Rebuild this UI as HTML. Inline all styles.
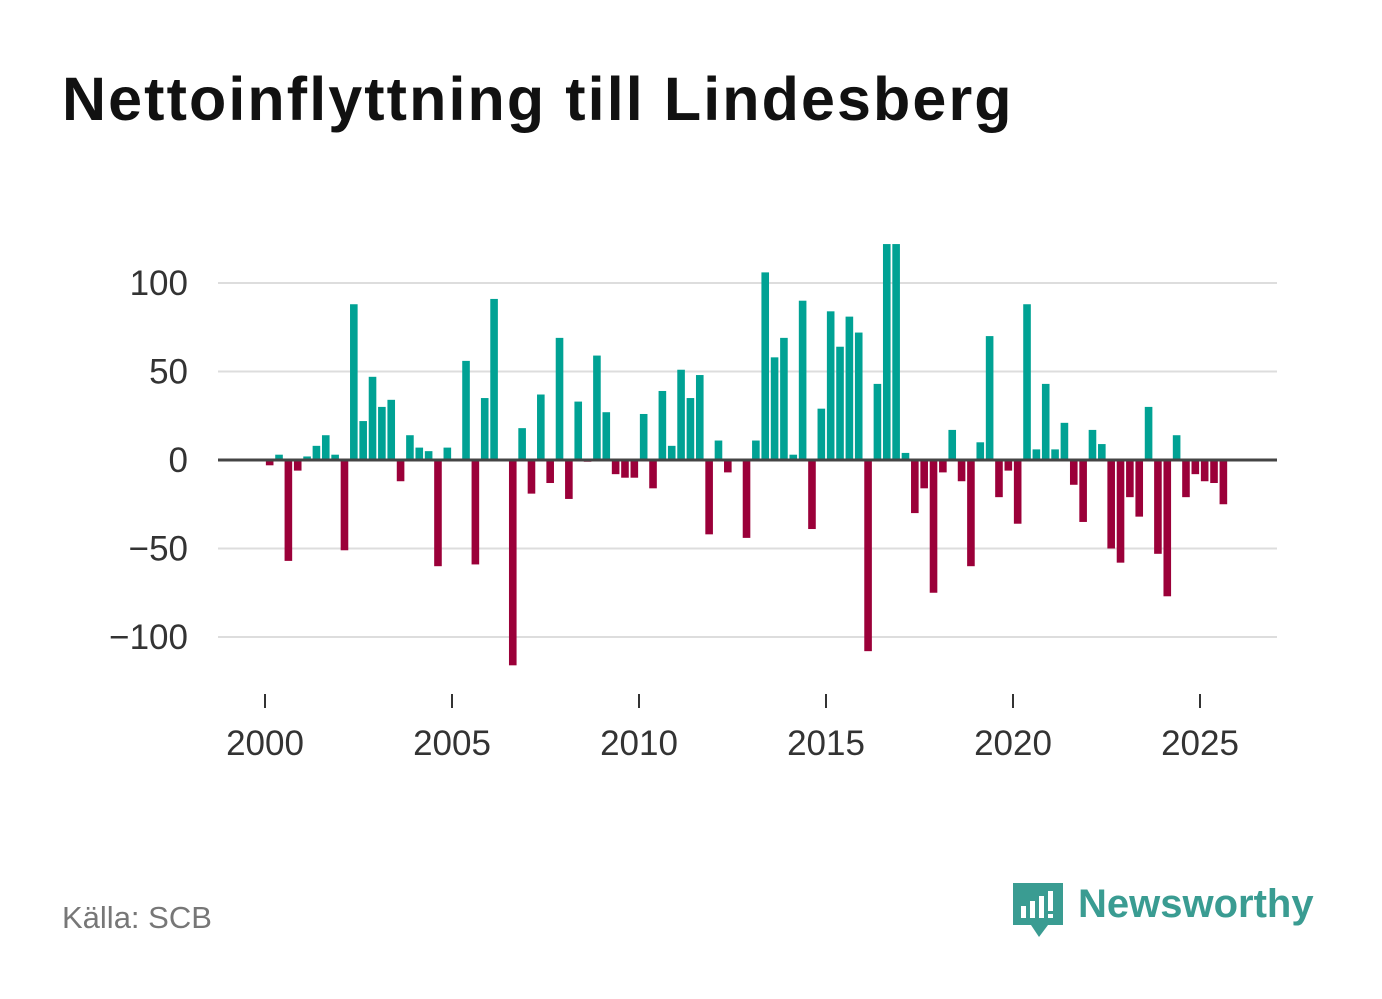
<!DOCTYPE html>
<html><head><meta charset="utf-8">
<style>
body{margin:0;background:#fff;font-family:"Liberation Sans",sans-serif;}
#wrap{position:relative;width:1382px;height:999px;overflow:hidden;}
h1{position:absolute;left:62px;top:64px;margin:0;font-size:61px;font-weight:bold;color:#111;letter-spacing:2.1px;}
#src{position:absolute;left:62px;top:900px;font-size:31px;color:#777;}
#logo{position:absolute;left:1010px;top:880px;}
</style></head><body>
<div id="wrap">
<h1>Nettoinflyttning till Lindesberg</h1>
<svg id="chart" width="1382" height="999" style="position:absolute;left:0;top:0"></svg>
<div id="src">Källa: SCB</div>
<div id="logo">
<svg width="320" height="62">
<path d="M3 3h50v42H38l-9 12-8-12H3z" fill="#3a9c92"/>
<rect x="11" y="26" width="5" height="12" fill="#fff"/><rect x="20" y="21" width="5" height="17" fill="#fff"/><rect x="29" y="16" width="5" height="22" fill="#fff"/><rect x="38" y="11" width="5" height="20" fill="#fff"/><rect x="38" y="34" width="5" height="4" fill="#fff"/>
<text x="68" y="37" font-family="Liberation Sans, sans-serif" font-size="40" font-weight="bold" fill="#3a9c92">Newsworthy</text>
</svg></div>
</div>
<script>
const values=[-3,3,-57,-6,2,8,14,3,-51,88,22,47,30,34,-12,14,7,5,-60,7,0,56,-59,35,91,0,-116,18,-19,37,-13,69,-22,33,-1,59,27,-8,-10,-10,26,-16,39,8,51,35,48,-42,11,-7,0,-44,11,106,58,69,3,90,-39,29,84,64,81,72,-108,43,122,122,4,-30,-16,-75,-7,17,-12,-60,10,70,-21,-6,-36,88,6,43,6,21,-14,-35,17,9,-50,-58,-21,-32,30,-53,-77,14,-21,-8,-12,-13,-25];
const startYear=2000;
const yTicks=[100,50,0,-50,-100];
const yTickLabels=["100","50","0","\u221250","\u2212100"];
const xTicks=[2000,2005,2010,2015,2020,2025];
const NS="http://www.w3.org/2000/svg";
const svg=document.getElementById('chart');
const y=v=>460-v*1.77;
const x=t=>265+(t-2000)*37.4;
function el(tag,a){const e=document.createElementNS(NS,tag);for(const k in a)e.setAttribute(k,a[k]);svg.appendChild(e);return e;}
yTicks.forEach((t,i)=>{
 if(t!==0){const g=el('line',{x1:218,x2:1277,y1:y(t),y2:y(t),stroke:'#ddd','stroke-width':2});
 
 }
 const l=el('text',{x:188,y:y(t)+12,'text-anchor':'end','font-size':35,fill:'#333','font-family':'Liberation Sans, sans-serif'});
 l.textContent=yTickLabels[i];
 
 
});
values.forEach((v,i)=>{
 const cx=x(startYear+(i+0.5)/4);
 const r=el('rect',{x:cx-3.8,width:7.6,y:Math.min(y(v),y(0)),height:Math.abs(y(v)-y(0)),fill:v>=0?'#00a294':'#9b0039'});
 
 
});
const z=el('line',{x1:218,x2:1277,y1:y(0),y2:y(0),stroke:'#444','stroke-width':3});


xTicks.forEach(t=>{
 const tk=el('line',{x1:x(t),x2:x(t),y1:694,y2:708,stroke:'#333','stroke-width':2});
 
 
 const l=el('text',{x:x(t),y:755,'text-anchor':'middle','font-size':35,fill:'#333','font-family':'Liberation Sans, sans-serif'});
 l.textContent=t;
 
 
});
</script>
</body></html>
